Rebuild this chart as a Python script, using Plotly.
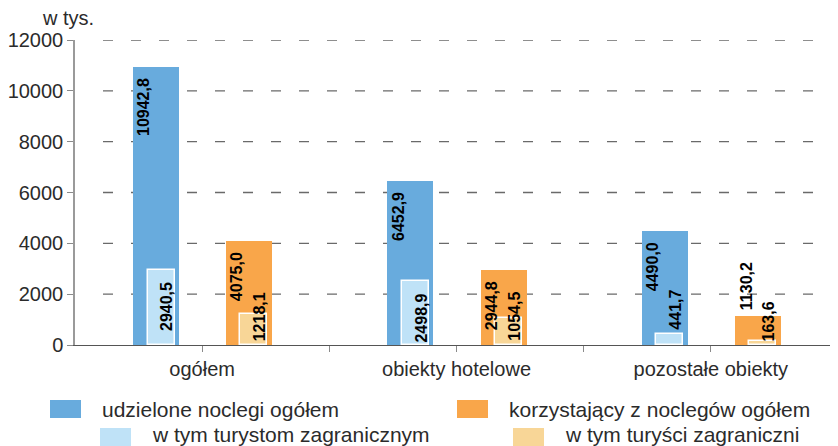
import plotly.graph_objects as go

categories = ["ogółem", "obiekty hotelowe", "pozostałe obiekty"]
noclegi_ogolem = [10942.8, 6452.9, 4490.0]
noclegi_zagr = [2940.5, 2498.9, 441.7]
korzystajacy_ogolem = [4075.0, 2944.8, 1130.2]
korzystajacy_zagr = [1218.1, 1054.5, 163.6]
y_ticks = [0, 2000, 4000, 6000, 8000, 10000, 12000]
series_names = ["udzielone noclegi ogółem", "w tym turystom zagranicznym",
                "korzystający z noclegów ogółem", "w tym turyści zagraniczni"]

# page has an 8px body margin, so the figure is drawn 8px smaller and coords shifted
OFF = 8
W, H = 838 - OFF, 446 - OFF
L, R, T, B = 75 - OFF, 0, 40 - OFF, 101
PW, PH = W - L - R, H - T - B

C_BLUE = "#68abdd"
C_LBLUE = "#bfe2f7"
C_ORANGE = "#f9a64a"
C_LORANGE = "#f8d697"
FONT = "Liberation Sans, Arial, sans-serif"
TXT = "#2b2b2b"

def fmt(v):
    return f"{v:.1f}".replace(".", ",")

xs = list(range(len(categories)))

fig = go.Figure()

# (values, color, offset, width, outline)
specs = [
    (noclegi_ogolem, C_BLUE, -0.181, 0.181, False),
    (korzystajacy_ogolem, C_ORANGE, 0.185, 0.181, False),
    (noclegi_zagr, C_LBLUE, -0.161, 0.106, True),
    (korzystajacy_zagr, C_LORANGE, 0.203, 0.106, True),
]
for vals, col, off, wid, outl in specs:
    fig.add_trace(go.Bar(
        x=[x + off for x in xs], y=vals, width=wid,
        marker=dict(color=col, line=dict(color="white", width=1.5 if outl else 0)),
        showlegend=False, hoverinfo="skip",
    ))

annotations = []
shapes = []

def lab(x, y, text, yanchor, yshift, xshift):
    annotations.append(dict(
        x=x, y=y, xref="x", yref="y", text=f"<b>{text}</b>", textangle=-90,
        showarrow=False, xanchor="center", yanchor=yanchor, yshift=yshift, xshift=xshift,
        font=dict(family=FONT, size=16, color="black")))

THRESH = 1900
for i, x in enumerate(xs):
    for vals, off in ((noclegi_ogolem, -0.181), (korzystajacy_ogolem, 0.185)):
        v = vals[i]
        if v > THRESH:
            lab(x + off, v, fmt(v), "top", -9, -12)
        else:
            lab(x + off, v, fmt(v), "bottom", 4, -12)
    v = noclegi_zagr[i]
    if v > THRESH:
        lab(x - 0.161, v, fmt(v), "top", -10, 6)
    else:
        lab(x - 0.161, v, fmt(v), "bottom", 2, 6)
    v = korzystajacy_zagr[i]
    lab(x + 0.203, 0, fmt(v), "bottom", 2, 6)

def px2paper(px, py):
    # px, py in reference-image pixels
    return (px - OFF - L) / PW, (H - B - (py - OFF)) / PH

# dashed gridlines
gx0, _ = px2paper(103, 0)
for t in y_ticks[1:]:
    shapes.append(dict(type="line", xref="paper", yref="y", x0=gx0, x1=1, y0=t, y1=t,
                       line=dict(color="#6a6a6a", width=1.3, dash="10px,18px"), layer="below"))

# unit label
ux, uy = px2paper(40, 18)
annotations.append(dict(x=ux, y=uy, xref="paper", yref="paper",
                        text="w tys.", showarrow=False, xanchor="left", yanchor="middle",
                        font=dict(family=FONT, size=20, color=TXT)))

# (name, colour, square x, square y, text x, text centre y)
legend_items = [
    (series_names[0], C_BLUE, 50, 400, 100, 409),
    (series_names[2], C_ORANGE, 457, 400, 507, 409),
    (series_names[1], C_LBLUE, 100, 428, 150, 434),
    (series_names[3], C_LORANGE, 513, 428, 563, 434),
]
for name, col, sx, sy, tx, ty_px in legend_items:
    x0, y1 = px2paper(sx, sy)
    x1, y0 = px2paper(sx + 31, sy + 18)
    shapes.append(dict(type="rect", xref="paper", yref="paper", x0=x0, x1=x1, y0=y0, y1=y1,
                       fillcolor=col, line=dict(width=0)))
    tx0, ty = px2paper(tx, ty_px)
    annotations.append(dict(x=tx0, y=ty, xref="paper", yref="paper", text=name,
                            showarrow=False, xanchor="left", yanchor="middle",
                            font=dict(family=FONT, size=21, color=TXT)))

fig.update_layout(
    width=W, height=H, margin=dict(l=L, r=R, t=T, b=B),
    paper_bgcolor="white", plot_bgcolor="white",
    barmode="overlay", bargap=0,
    xaxis=dict(range=[-0.5, 2.5], tickmode="array",
               tickvals=[0, 0.5, 1, 1.5, 2],
               ticktext=[categories[0], "", categories[1], "", categories[2]],
               ticks="outside", ticklen=6, tickcolor="#8a8a8a", tickwidth=1.2,
               showline=True, linecolor="#555555", linewidth=1.3, showgrid=False,
               zeroline=False, tickfont=dict(family=FONT, size=20, color=TXT), fixedrange=True),
    yaxis=dict(range=[0, 12000], tickmode="array", tickvals=y_ticks,
               ticktext=[str(t) for t in y_ticks], ticks="outside", ticklen=6,
               tickcolor="#8a8a8a", tickwidth=1.2, showline=True, linecolor="#9a9a9a",
               linewidth=1.5, showgrid=False, zeroline=False,
               tickfont=dict(family=FONT, size=20, color=TXT)),
    annotations=annotations, shapes=shapes,
)

fig.write_html("out.html")
